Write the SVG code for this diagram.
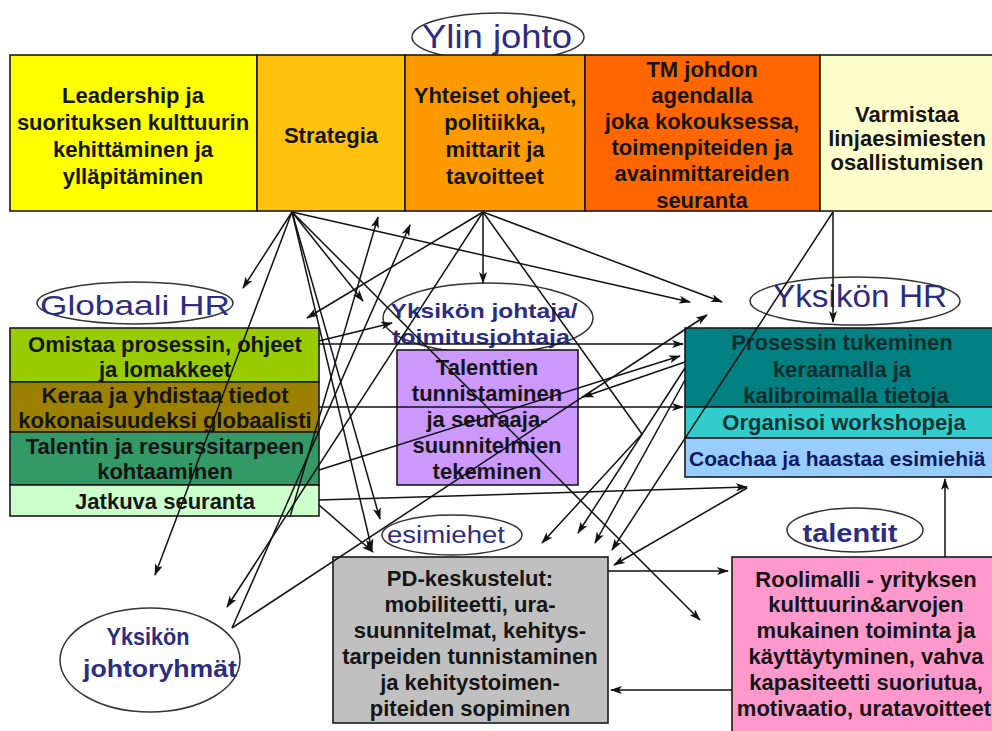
<svg xmlns="http://www.w3.org/2000/svg" width="992" height="731" viewBox="0 0 992 731">
<defs>
<marker id="ah" viewBox="0 0 12 8" refX="11" refY="4" markerWidth="12" markerHeight="8" markerUnits="userSpaceOnUse" orient="auto"><path d="M0,0 L12,4 L0,8 L3,4 z" fill="#111"/></marker>
</defs>
<style>
.box{stroke:#1a1a1a;stroke-width:1.6}
.t{font-family:"Liberation Sans",Arial,sans-serif;font-weight:bold;font-size:22px;fill:#151515;text-anchor:middle}
.ti{font-family:"Liberation Sans",Arial,sans-serif;fill:#2d2d80;text-anchor:middle}
.el{fill:#fff;stroke:#333;stroke-width:1.5}
.c{stroke:#111;stroke-width:1.5;fill:none;marker-end:url(#ah)}
.p{stroke:#111;stroke-width:1.5;fill:none}
</style>
<rect width="992" height="731" fill="#fff"/>

<g id="ylin-johto">
<ellipse class="el" cx="498" cy="37" rx="86" ry="24"/>
<text class="ti" x="497" y="48" font-size="34" textLength="150" lengthAdjust="spacingAndGlyphs">Ylin johto</text>
</g>

<g id="leadership">
<rect class="box" x="10" y="55" width="247" height="156" fill="#FFFF00"/>
<text class="t" x="133" y="103">Leadership ja</text>
<text class="t" x="133" y="130">suorituksen kulttuurin</text>
<text class="t" x="133" y="157">kehittäminen ja</text>
<text class="t" x="133" y="184">ylläpitäminen</text>
</g>
<g id="strategia">
<rect class="box" x="257" y="55" width="148" height="156" fill="#FFC20E"/>
<text class="t" x="331" y="143">Strategia</text>
</g>
<g id="yhteiset">
<rect class="box" x="405" y="55" width="180" height="156" fill="#FF9900"/>
<text class="t" x="495" y="103">Yhteiset ohjeet,</text>
<text class="t" x="495" y="130">politiikka,</text>
<text class="t" x="495" y="157">mittarit ja</text>
<text class="t" x="495" y="184">tavoitteet</text>
</g>
<g id="tm-johdon">
<rect class="box" x="585" y="55" width="235" height="156" fill="#FF6600"/>
<text class="t" x="702" y="77">TM johdon</text>
<text class="t" x="702" y="103">agendalla</text>
<text class="t" x="702" y="129">joka kokouksessa,</text>
<text class="t" x="702" y="155">toimenpiteiden ja</text>
<text class="t" x="702" y="181">avainmittareiden</text>
<text class="t" x="702" y="208">seuranta</text>
</g>
<g id="varmistaa">
<rect class="box" x="820" y="55" width="180" height="156" fill="#FFFFCC"/>
<text class="t" x="907" y="122">Varmistaa</text>
<text class="t" x="907" y="146">linjaesimiesten</text>
<text class="t" x="907" y="170">osallistumisen</text>
</g>

<g id="globaali-hr">
<ellipse class="el" cx="135" cy="303" rx="98" ry="21"/>
<text class="ti" x="135" y="315" font-size="28" textLength="190" lengthAdjust="spacingAndGlyphs">Globaali HR</text>
<rect class="box" x="10" y="328" width="309" height="54" fill="#99CC00"/>
<text class="t" x="165" y="352">Omistaa prosessin, ohjeet</text>
<text class="t" x="165" y="377">ja lomakkeet</text>
<rect class="box" x="10" y="382" width="309" height="50" fill="#9C8000"/>
<text class="t" x="165" y="403">Keraa ja yhdistaa tiedot</text>
<text class="t" x="165" y="428">kokonaisuudeksi globaalisti</text>
<rect class="box" x="10" y="432" width="309" height="53" fill="#339966"/>
<text class="t" x="165" y="454">Talentin ja resurssitarpeen</text>
<text class="t" x="165" y="479">kohtaaminen</text>
<rect class="box" x="10" y="485" width="309" height="31" fill="#CCFFCC"/>
<text class="t" x="165" y="509">Jatkuva seuranta</text>
</g>

<g id="yksikon-johtaja">
<ellipse class="el" cx="488" cy="318" rx="105" ry="35"/>
<rect class="box" x="397" y="350" width="181" height="135" fill="#CC99FF"/>
<text class="ti" x="484" y="318" font-size="21" font-weight="bold" textLength="187" lengthAdjust="spacingAndGlyphs">Yksikön johtaja/</text>
<text class="ti" x="481" y="344" font-size="21" font-weight="bold" textLength="178" lengthAdjust="spacingAndGlyphs">toimitusjohtaja</text>
<text class="t" x="487" y="375">Talenttien</text>
<text class="t" x="487" y="401">tunnistaminen</text>
<text class="t" x="487" y="427">ja seuraaja-</text>
<text class="t" x="487" y="453">suunnitelmien</text>
<text class="t" x="487" y="479">tekeminen</text>
</g>

<g id="yksikon-hr">
<ellipse class="el" cx="855" cy="301" rx="105" ry="24"/>
<text class="ti" x="860" y="307" font-size="32" textLength="174" lengthAdjust="spacingAndGlyphs">Yksikön HR</text>
<rect class="box" x="685" y="328" width="320" height="79" fill="#008080"/>
<text class="t" x="842" y="350" style="fill:#0f2f2f">Prosessin tukeminen</text>
<text class="t" x="842" y="377" style="fill:#0f2f2f">keraamalla ja</text>
<text class="t" x="846" y="403" style="fill:#0f2f2f">kalibroimalla tietoja</text>
<rect class="box" x="685" y="407" width="320" height="31" fill="#33CCCC"/>
<text class="t" x="844" y="430" style="fill:#103535">Organisoi workshopeja</text>
<rect class="box" x="685" y="438" width="320" height="39" fill="#99CCFF"/>
<text class="t" x="689" y="466" style="fill:#0a1a5c;text-anchor:start;font-size:21px">Coachaa ja haastaa esimiehiä</text>
</g>

<g id="esimiehet">
<ellipse class="el" cx="452" cy="535" rx="70" ry="20"/>
<text class="ti" x="446" y="543" font-size="23" textLength="118" lengthAdjust="spacingAndGlyphs">esimiehet</text>
<rect class="box" x="333" y="557" width="275" height="166" fill="#C0C0C0"/>
<text class="t" x="470" y="586">PD-keskustelut:</text>
<text class="t" x="470" y="612">mobiliteetti, ura-</text>
<text class="t" x="470" y="638">suunnitelmat, kehitys-</text>
<text class="t" x="470" y="664">tarpeiden tunnistaminen</text>
<text class="t" x="470" y="690">ja kehitystoimen-</text>
<text class="t" x="470" y="716">piteiden sopiminen</text>
</g>

<g id="talentit">
<ellipse class="el" cx="855" cy="530" rx="68" ry="22"/>
<text class="ti" x="850" y="542" font-size="25" font-weight="bold" textLength="95" lengthAdjust="spacingAndGlyphs">talentit</text>
<rect class="box" x="732" y="557" width="280" height="190" fill="#FF99CC"/>
<text class="t" x="866" y="587">Roolimalli - yrityksen</text>
<text class="t" x="866" y="612">kulttuurin&amp;arvojen</text>
<text class="t" x="866" y="638">mukainen toiminta ja</text>
<text class="t" x="866" y="664">käyttäytyminen, vahva</text>
<text class="t" x="866" y="690">kapasiteetti suoriutua,</text>
<text class="t" x="864" y="716">motivaatio, uratavoitteet</text>
</g>

<g id="yksikon-johtoryhmat">
<ellipse class="el" cx="150" cy="660" rx="90" ry="52"/>
<text class="ti" x="148" y="645" font-size="23" font-weight="bold" textLength="83" lengthAdjust="spacingAndGlyphs">Yksikön</text>
<text class="ti" x="160" y="677" font-size="23" font-weight="bold" textLength="154" lengthAdjust="spacingAndGlyphs">johtoryhmät</text>
</g>

<g id="connectors">
<line class="c" x1="292" y1="212" x2="243" y2="288"/>
<line class="c" x1="292" y1="212" x2="155" y2="575"/>
<line class="c" x1="292" y1="212" x2="363" y2="301"/>
<line class="c" x1="292" y1="212" x2="690" y2="302"/>
<line class="c" x1="292" y1="212" x2="380" y2="519"/>
<line class="c" x1="292" y1="212" x2="372" y2="550"/>
<line class="c" x1="292" y1="212" x2="700" y2="620"/>
<line class="c" x1="483" y1="212" x2="483" y2="283"/>
<line class="c" x1="483" y1="212" x2="307" y2="318"/>
<line class="c" x1="483" y1="212" x2="722" y2="302"/>
<line class="c" x1="483" y1="212" x2="227" y2="607"/>
<polyline class="c" points="483,212 642,434 542,543"/>
<line class="c" x1="232" y1="628" x2="410" y2="225"/>
<line class="c" x1="290" y1="517" x2="378" y2="217"/>
<line class="c" x1="232" y1="628" x2="707" y2="315"/>
<line class="c" x1="319" y1="341" x2="392" y2="323"/>
<line class="c" x1="319" y1="344" x2="683" y2="344"/>
<line class="c" x1="319" y1="407" x2="683" y2="407"/>
<line class="c" x1="319" y1="470" x2="680" y2="356"/>
<line class="c" x1="319" y1="500" x2="747" y2="487"/>
<line class="c" x1="319" y1="505" x2="373" y2="552"/>
<line class="c" x1="685" y1="362" x2="583" y2="397"/>
<line class="c" x1="685" y1="368" x2="578" y2="533"/>
<line class="c" x1="685" y1="380" x2="595" y2="543"/>
<line class="c" x1="833" y1="212" x2="612" y2="550"/>
<line class="c" x1="833" y1="212" x2="833" y2="322"/>
<line class="c" x1="747" y1="488" x2="614" y2="565"/>
<line class="c" x1="608" y1="571" x2="728" y2="571"/>
<line class="c" x1="732" y1="690" x2="611" y2="690"/>
<line class="c" x1="945" y1="557" x2="945" y2="479"/>
</g>
</svg>
